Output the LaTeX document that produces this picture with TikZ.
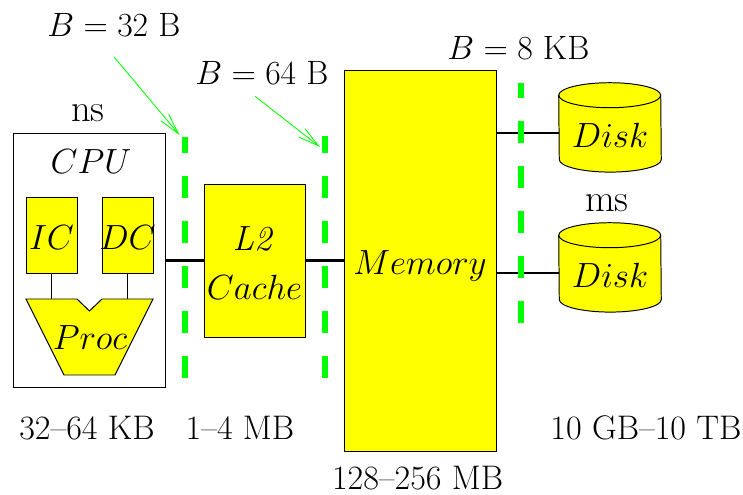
\documentclass[tikz,border=0pt]{standalone}
\definecolor{unityellow}{RGB}{255,255,0}
\definecolor{gategreen}{RGB}{0,255,0}
\usetikzlibrary{shapes.geometric, arrows.meta, positioning, calc}
\newcommand{\boxtext}[2]{\makebox[0pt]{\raisebox{#1}[0pt][0pt]{#2}}}
\tikzstyle{unit} = [rectangle, draw=black, fill=unityellow, line width=0.7pt, font=\Huge, inner sep=0pt]
\tikzstyle{link} = [line width=1.5pt, color=black]
\tikzstyle{wire} = [line width=0.7pt, color=black]
\tikzstyle{gate} = [line width=3.6pt, color=gategreen, dash pattern=on 0.55cm off 0.575cm]
\tikzstyle{lbl} = [font=\Huge, inner sep=0pt, anchor=base]
\tikzstyle{pointer} = [-{Straight Barb[length=5.3mm, width=2.6mm]}, line width=0.6pt, color=gategreen]

\begin{document}
\begin{tikzpicture}[
    disk/.style={rectangle, minimum width=2.55cm, minimum height=2.22cm, inner sep=0pt},
    cache/.style={unit, minimum width=1.275cm, minimum height=1.9cm},
    caplbl/.style={lbl, scale=0.975},
    sizelbl/.style={lbl, scale=0.965},
    timelbl/.style={lbl, scale=1.1},
    rim/.style={x radius=1.275cm, y radius=0.3125cm}
  ]
    \useasboundingbox (0,0) rectangle (18.575,12.375);

    % ── CPU
    \node[draw=black, line width=0.7pt, minimum width=3.81cm, minimum height=6.35cm] (cpu) at (2.2375,5.8575) {};
    \node[lbl] (cpuname) at (2.275,8.025) {$CPU$};
    \node[cache] (ic) at (1.2875,6.49) {\boxtext{-9.7pt}{$IC$}};
    \node[cache] (dc) at (3.1875,6.49) {\boxtext{-9.7pt}{$DC$}};

    % ── Processor
    \coordinate (proctop) at (2.2375,4.9);
    \draw[wire] (ic) -- (ic.south |- proctop);
    \draw[wire] (dc) -- (dc.south |- proctop);
    \draw[line width=0.7pt, fill=unityellow] (0.65,4.9) -- (1.925,4.9) -- (2.2375,4.6) -- (2.55,4.9)
      -- (3.825,4.9) -- (2.875,3) -- (1.6,3) -- cycle;
    \node[lbl] (proc) at (2.25,3.625) {$Proc$};

    % ── L2, memory
    \node[unit, minimum width=2.525cm, minimum height=3.825cm] (l2) at (6.3625,5.8625)
      {\boxtext{6.8pt}{$\mathit{L2}$}\boxtext{-27.4pt}{$Cache$}};
    \node[unit, minimum width=3.8cm, minimum height=9.525cm] (memory) at (10.5,5.8625)
      {\boxtext{-10.3pt}{$Memory$}};

    % ── Disks
    \node[disk] (disk1) at (15.25,9.19) {};
    \node[disk] (disk2) at (15.25,5.69) {};
    \foreach \d in {disk1,disk2} {
      \draw[line width=0.7pt, fill=unityellow] ([yshift=-0.3125cm]\d.north west)
        arc[start angle=180, end angle=0, rim] -- ([yshift=0.3125cm]\d.south east)
        arc[start angle=360, end angle=180, rim] -- cycle;
      \draw[line width=0.7pt] ([yshift=-0.3125cm]\d.north west) arc[start angle=180, end angle=360, rim];
      \node[lbl] (\d name) at ([yshift=-0.515cm]\d.center) {$Disk$};
    }

    % ── Links
    \draw[link] (cpu.east |- l2.west) -- (l2.west);
    \draw[link] (l2.east) -- (memory.west |- l2.east);
    \draw[link] ([yshift=-0.14cm]disk1.west -| memory.east) -- ([yshift=-0.14cm]disk1.west);
    \draw[link] ([yshift=-0.14cm]disk2.west -| memory.east) -- ([yshift=-0.14cm]disk2.west);

    % ── Dashed gates
    \coordinate (gate1a) at (4.625,2.925);
    \coordinate (gate1b) at (4.625,8.95);
    \coordinate (gate2a) at (8.125,2.925);
    \coordinate (gate2b) at (8.125,8.975);
    \coordinate (gate3a) at (13.025,4.3);
    \coordinate (gate3b) at (13.025,10.3);
    \draw[gate] (gate1a) -- (gate1b);
    \draw[gate] (gate2a) -- (gate2b);
    \draw[gate] (gate3a) -- (gate3b);

    % ── Block sizes
    \node[sizelbl] (b32) at (2.85,11.46) {$B=32$ B};
    \node[sizelbl] (b64) at (6.55,10.25) {$B=64$ B};
    \node[sizelbl] (b8) at (12.96,10.89) {$B=8$ KB};
    \coordinate (tip1) at (4.4875,9);
    \coordinate (tip2) at (8,8.7);
    \draw[pointer] ([yshift=-0.5cm]b32.south) -- (tip1);
    \draw[pointer] ([xshift=-0.175cm,yshift=-0.275cm]b64.south) -- (tip2);

    % ── Times, capacities
    \node[timelbl] (ns) at (2.2,9.325) {ns};
    \node[timelbl] (ms) at (15.17,7.08) {ms};
    \node[caplbl] (cap1) at (2.175,1.375) {32--64 KB};
    \node[caplbl] (cap2) at (6,1.375) {1--4 MB};
    \node[caplbl] (cap3) at (10.44,0.125) {128--256 MB};
    \node[caplbl] (cap4) at (16.15,1.375) {10 GB--10 TB};
\end{tikzpicture}
\end{document}
